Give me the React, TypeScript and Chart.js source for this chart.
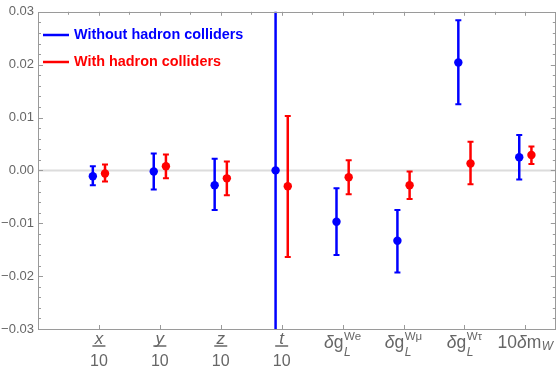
import React, { useEffect, useRef } from 'react';
import { Chart, registerables } from 'chart.js';
Chart.register(...registerables);

// ---- data ----
const categories = ['x/10', 'y/10', 'z/10', 't/10', 'δg_L^We', 'δg_L^Wμ', 'δg_L^Wτ', '10δm_W'];
const withoutCenter = [-0.0011, -0.0002, -0.0028, 0.0, -0.0097, -0.0133, 0.0204, 0.0025];
const withoutLow = [-0.0028, -0.0036, -0.0075, -0.1, -0.016, -0.0193, 0.0125, -0.0017];
const withoutHigh = [0.0008, 0.0032, 0.0022, 0.1, -0.0034, -0.0075, 0.0284, 0.0067];
const withCenter = [-0.0006, 0.0008, -0.0015, -0.003, -0.0013, -0.0028, 0.0013, 0.0029];
const withLow = [-0.0021, -0.0015, -0.0047, -0.0164, -0.0045, -0.0054, -0.0026, 0.0012];
const withHigh = [0.0011, 0.003, 0.0017, 0.0103, 0.0019, -0.0002, 0.0054, 0.0045];
const seriesNames = ['Without hadron colliders', 'With hadron colliders'];
const seriesColors = ['#0000ff', '#ff0000'];
const xLabels: any[] = [
  { frac: ['x', '10'] },
  { frac: ['y', '10'] },
  { frac: ['z', '10'] },
  { frac: ['t', '10'] },
  { base: [['δ', true], ['g', false]], sub: 'L', sup: 'We' },
  { base: [['δ', true], ['g', false]], sub: 'L', sup: 'Wμ' },
  { base: [['δ', true], ['g', false]], sub: 'L', sup: 'Wτ' },
  { base: [['10', false], ['δ', true], ['m', false]], sub: 'W' },
];
const yMin = -0.03;
const yMax = 0.03;
const yStep = 0.01;

const FONT = '"Liberation Sans", Arial, sans-serif';
const GRAY = '#666666';
const AXIS = '#9a9a9a';

function mkData(center: number[], low: number[], high: number[], off: number) {
  return center.map((c, i) => ({ x: i + 1 + off, y: c, yMin: low[i], yMax: high[i] }));
}

const customPlugin = {
  id: 'custom',
  beforeDatasetsDraw(chart: any) {
    const { ctx, chartArea: a, scales } = chart;
    const x = scales.x, y = scales.y;
    ctx.save();
    // zero line
    ctx.strokeStyle = '#dcdcdc';
    ctx.lineWidth = 2;
    const y0 = y.getPixelForValue(0);
    ctx.beginPath();
    ctx.moveTo(a.left, y0);
    ctx.lineTo(a.right, y0);
    ctx.stroke();
    // error bars
    ctx.beginPath();
    ctx.rect(a.left, a.top, a.right - a.left, a.bottom - a.top);
    ctx.clip();
    chart.data.datasets.forEach((ds: any) => {
      ctx.strokeStyle = ds.borderColor;
      ds.data.forEach((p: any) => {
        const px = x.getPixelForValue(p.x);
        const pl = y.getPixelForValue(p.yMin);
        const ph = y.getPixelForValue(p.yMax);
        ctx.lineWidth = 2.5;
        ctx.beginPath();
        ctx.moveTo(px, pl);
        ctx.lineTo(px, ph);
        ctx.stroke();
        ctx.lineWidth = 2;
        ctx.beginPath();
        ctx.moveTo(px - 3, pl);
        ctx.lineTo(px + 3, pl);
        ctx.moveTo(px - 3, ph);
        ctx.lineTo(px + 3, ph);
        ctx.stroke();
      });
    });
    ctx.restore();
  },
  afterDraw(chart: any) {
    const { ctx, chartArea: a, scales } = chart;
    const x = scales.x, y = scales.y;
    ctx.save();
    // frame
    ctx.strokeStyle = AXIS;
    ctx.lineWidth = 1;
    ctx.strokeRect(Math.round(a.left) + 0.5, Math.round(a.top) + 0.5, Math.round(a.right - a.left) - 1, Math.round(a.bottom - a.top));
    // y ticks (major + minor) on left and right
    ctx.beginPath();
    const nMinor = Math.round((yMax - yMin) / (yStep / 5));
    for (let k = 0; k <= nMinor; k++) {
      const v = yMin + (k * yStep) / 5;
      const py = Math.round(y.getPixelForValue(v)) + 0.5;
      const len = k % 5 === 0 ? 5 : 3;
      ctx.moveTo(a.left, py);
      ctx.lineTo(a.left + len, py);
      ctx.moveTo(a.right, py);
      ctx.lineTo(a.right - len, py);
    }
    // x ticks: bottom at categories, top every half
    for (let i = 1; i <= categories.length; i++) {
      const px = Math.round(x.getPixelForValue(i)) + 0.5;
      ctx.moveTo(px, a.bottom);
      ctx.lineTo(px, a.bottom - 4);
    }
    for (let v = 0.5; v < 8.5; v += 0.5) {
      const px = Math.round(x.getPixelForValue(v)) + 0.5;
      const len = Number.isInteger(v) ? 4 : 3;
      ctx.moveTo(px, a.top);
      ctx.lineTo(px, a.top + len);
    }
    ctx.stroke();

    // x labels
    ctx.fillStyle = GRAY;
    ctx.strokeStyle = GRAY;
    ctx.textBaseline = 'alphabetic';
    xLabels.forEach((lab, i) => {
      const cx = x.getPixelForValue(i + 1);
      if (lab.frac) {
        ctx.textAlign = 'center';
        ctx.font = `italic 17px ${FONT}`;
        ctx.fillText(lab.frac[0], cx, a.bottom + 15);
        ctx.lineWidth = 1.5;
        ctx.beginPath();
        ctx.moveTo(cx - 6.5, a.bottom + 17);
        ctx.lineTo(cx + 6.5, a.bottom + 17);
        ctx.stroke();
        ctx.font = `16px ${FONT}`;
        ctx.fillText(lab.frac[1], cx, a.bottom + 37);
      } else {
        ctx.textAlign = 'left';
        const mainFont = (it: boolean) => `${it ? 'italic ' : ''}17.5px ${FONT}`;
        const subFont = `italic 12px ${FONT}`;
        const supFont = `11.5px ${FONT}`;
        let w = 0;
        lab.base.forEach((p: any) => {
          ctx.font = mainFont(p[1]);
          w += ctx.measureText(p[0]).width;
        });
        ctx.font = subFont;
        const wsub = lab.sub ? ctx.measureText(lab.sub).width : 0;
        ctx.font = supFont;
        const wsup = lab.sup ? ctx.measureText(lab.sup).width : 0;
        const total = w + Math.max(wsub, wsup) + 0.5;
        let px = cx - total / 2;
        const base = a.bottom + 19;
        lab.base.forEach((p: any) => {
          ctx.font = mainFont(p[1]);
          ctx.fillText(p[0], px, base);
          px += ctx.measureText(p[0]).width;
        });
        px += 0.5;
        if (lab.sub) {
          ctx.font = subFont;
          ctx.fillText(lab.sub, px, lab.sup ? base + 8 : base + 1.5);
        }
        if (lab.sup) {
          ctx.font = supFont;
          ctx.fillText(lab.sup, px, base - 8.5);
        }
      }
    });

    // legend
    const legY = [35, 62];
    seriesNames.forEach((name, i) => {
      ctx.strokeStyle = seriesColors[i];
      ctx.lineWidth = 2.5;
      ctx.beginPath();
      ctx.moveTo(a.left + 5, legY[i]);
      ctx.lineTo(a.left + 31, legY[i]);
      ctx.stroke();
      ctx.fillStyle = seriesColors[i];
      ctx.font = `bold 14.4px ${FONT}`;
      ctx.textAlign = 'left';
      ctx.textBaseline = 'middle';
      ctx.fillText(name, a.left + 36, legY[i]);
    });
    ctx.restore();
  },
};

export default function App() {
  const ref = useRef<HTMLCanvasElement>(null);
  useEffect(() => {
    document.body.style.margin = '0';
    const chart = new Chart(ref.current!, {
      type: 'scatter',
      data: {
        datasets: [
          {
            label: seriesNames[0],
            data: mkData(withoutCenter, withoutLow, withoutHigh, -0.1),
            backgroundColor: seriesColors[0],
            borderColor: seriesColors[0],
            pointRadius: 4.2,
            pointBorderWidth: 0,
          },
          {
            label: seriesNames[1],
            data: mkData(withCenter, withLow, withHigh, 0.1),
            backgroundColor: seriesColors[1],
            borderColor: seriesColors[1],
            pointRadius: 4.2,
            pointBorderWidth: 0,
          },
        ],
      },
      options: {
        animation: false,
        responsive: false,
        layout: { padding: { top: 8, right: 3, left: 0, bottom: 0 } },
        plugins: { legend: { display: false }, tooltip: { enabled: false } },
        scales: {
          x: {
            type: 'linear',
            min: 0,
            max: 8.5,
            grid: { display: false },
            border: { display: false },
            ticks: { display: false },
            afterFit: (s: any) => { s.height = 40; },
          },
          y: {
            min: yMin,
            max: yMax,
            grid: { display: false, drawTicks: false },
            border: { display: false },
            ticks: {
              stepSize: yStep,
              padding: 4,
              color: GRAY,
              font: { family: FONT, size: 13 },
              callback: (v: any) => {
                const n = Number(v);
                const s = Math.abs(n).toFixed(2);
                return n < -1e-9 ? '\u2212' + s : s;
              },
            },
            afterFit: (s: any) => { s.width = 38; },
          },
        },
      },
      plugins: [customPlugin],
    } as any);
    return () => chart.destroy();
  }, []);
  return (
    <div style={{ width: 560, height: 369 }}>
      <canvas ref={ref} width={560} height={369} style={{ display: 'block' }} />
    </div>
  );
}
